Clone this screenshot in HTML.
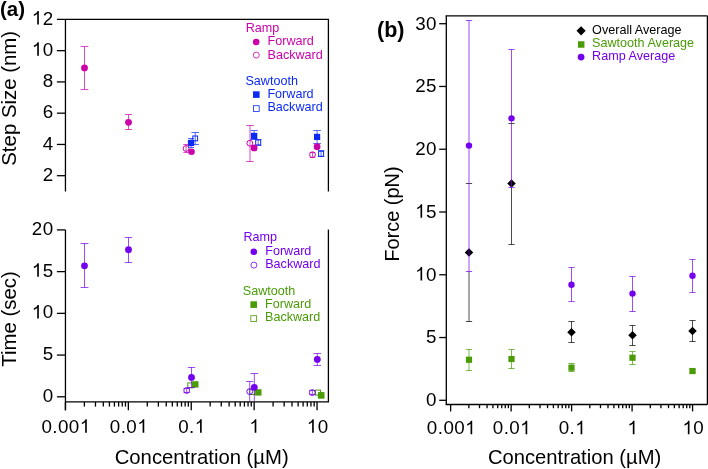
<!DOCTYPE html>
<html><head><meta charset="utf-8"><style>
html,body{margin:0;padding:0;background:#fff;}
body{width:708px;height:469px;overflow:hidden;}
svg{display:block;font-family:"Liberation Sans",sans-serif;will-change:transform;}
</style></head><body>
<svg width="708" height="469" viewBox="0 0 708 469">
<rect width="708" height="469" fill="#fff"/>
<line x1="65.45" y1="19.40" x2="65.45" y2="191.50" stroke="#000" stroke-width="1.3"/>
<line x1="56.90" y1="19.40" x2="329.05" y2="19.40" stroke="#000" stroke-width="1.3"/>
<line x1="328.40" y1="19.40" x2="328.40" y2="191.50" stroke="#000" stroke-width="1.3"/>
<line x1="56.90" y1="175.70" x2="65.45" y2="175.70" stroke="#000" stroke-width="1.3"/>
<line x1="56.90" y1="144.44" x2="65.45" y2="144.44" stroke="#000" stroke-width="1.3"/>
<line x1="56.90" y1="113.18" x2="65.45" y2="113.18" stroke="#000" stroke-width="1.3"/>
<line x1="56.90" y1="81.92" x2="65.45" y2="81.92" stroke="#000" stroke-width="1.3"/>
<line x1="56.90" y1="50.66" x2="65.45" y2="50.66" stroke="#000" stroke-width="1.3"/>
<text x="42.74" y="180.80" font-size="18.8" letter-spacing="0.44" fill="#000">2</text>
<text x="42.74" y="149.54" font-size="18.8" letter-spacing="0.44" fill="#000">4</text>
<text x="42.74" y="118.28" font-size="18.8" letter-spacing="0.44" fill="#000">6</text>
<text x="42.74" y="87.02" font-size="18.8" letter-spacing="0.44" fill="#000">8</text>
<text x="31.85" y="55.76" font-size="18.8" letter-spacing="0.44" fill="#000"> 0</text>
<path d="M0.3726 0L0.2847 0L0.2847 0.5601Q0.2250 0.5000 0.1079 0.4541L0.1079 0.5391Q0.2650 0.6000 0.3071 0.7158L0.3726 0.7158Z" fill="#000" transform="translate(31.85 55.76) scale(18.8 -18.8)"/>
<text x="31.85" y="24.50" font-size="18.8" letter-spacing="0.44" fill="#000"> 2</text>
<path d="M0.3726 0L0.2847 0L0.2847 0.5601Q0.2250 0.5000 0.1079 0.4541L0.1079 0.5391Q0.2650 0.6000 0.3071 0.7158L0.3726 0.7158Z" fill="#000" transform="translate(31.85 24.50) scale(18.8 -18.8)"/>
<line x1="65.45" y1="229.90" x2="65.45" y2="410.30" stroke="#000" stroke-width="1.3"/>
<line x1="328.40" y1="229.60" x2="328.40" y2="401.90" stroke="#000" stroke-width="1.3"/>
<line x1="65.45" y1="401.90" x2="329.05" y2="401.90" stroke="#000" stroke-width="1.3"/>
<line x1="56.90" y1="396.80" x2="65.45" y2="396.80" stroke="#000" stroke-width="1.3"/>
<text x="42.74" y="401.90" font-size="18.8" letter-spacing="0.44" fill="#000">0</text>
<line x1="56.90" y1="355.07" x2="65.45" y2="355.07" stroke="#000" stroke-width="1.3"/>
<text x="42.74" y="360.18" font-size="18.8" letter-spacing="0.44" fill="#000">5</text>
<line x1="56.90" y1="313.35" x2="65.45" y2="313.35" stroke="#000" stroke-width="1.3"/>
<text x="31.85" y="318.45" font-size="18.8" letter-spacing="0.44" fill="#000"> 0</text>
<path d="M0.3726 0L0.2847 0L0.2847 0.5601Q0.2250 0.5000 0.1079 0.4541L0.1079 0.5391Q0.2650 0.6000 0.3071 0.7158L0.3726 0.7158Z" fill="#000" transform="translate(31.85 318.45) scale(18.8 -18.8)"/>
<line x1="56.90" y1="271.62" x2="65.45" y2="271.62" stroke="#000" stroke-width="1.3"/>
<text x="31.85" y="276.73" font-size="18.8" letter-spacing="0.44" fill="#000"> 5</text>
<path d="M0.3726 0L0.2847 0L0.2847 0.5601Q0.2250 0.5000 0.1079 0.4541L0.1079 0.5391Q0.2650 0.6000 0.3071 0.7158L0.3726 0.7158Z" fill="#000" transform="translate(31.85 276.73) scale(18.8 -18.8)"/>
<line x1="56.90" y1="229.90" x2="65.45" y2="229.90" stroke="#000" stroke-width="1.3"/>
<text x="31.85" y="235.00" font-size="18.8" letter-spacing="0.44" fill="#000">20</text>
<line x1="65.45" y1="401.90" x2="65.45" y2="410.30" stroke="#000" stroke-width="1.3"/>
<line x1="84.38" y1="401.90" x2="84.38" y2="406.60" stroke="#000" stroke-width="1.3"/>
<line x1="95.46" y1="401.90" x2="95.46" y2="406.60" stroke="#000" stroke-width="1.3"/>
<line x1="103.32" y1="401.90" x2="103.32" y2="406.60" stroke="#000" stroke-width="1.3"/>
<line x1="109.42" y1="401.90" x2="109.42" y2="406.60" stroke="#000" stroke-width="1.3"/>
<line x1="114.40" y1="401.90" x2="114.40" y2="406.60" stroke="#000" stroke-width="1.3"/>
<line x1="118.61" y1="401.90" x2="118.61" y2="406.60" stroke="#000" stroke-width="1.3"/>
<line x1="122.25" y1="401.90" x2="122.25" y2="406.60" stroke="#000" stroke-width="1.3"/>
<line x1="125.47" y1="401.90" x2="125.47" y2="406.60" stroke="#000" stroke-width="1.3"/>
<line x1="128.35" y1="401.90" x2="128.35" y2="410.30" stroke="#000" stroke-width="1.3"/>
<line x1="147.28" y1="401.90" x2="147.28" y2="406.60" stroke="#000" stroke-width="1.3"/>
<line x1="158.36" y1="401.90" x2="158.36" y2="406.60" stroke="#000" stroke-width="1.3"/>
<line x1="166.22" y1="401.90" x2="166.22" y2="406.60" stroke="#000" stroke-width="1.3"/>
<line x1="172.32" y1="401.90" x2="172.32" y2="406.60" stroke="#000" stroke-width="1.3"/>
<line x1="177.30" y1="401.90" x2="177.30" y2="406.60" stroke="#000" stroke-width="1.3"/>
<line x1="181.51" y1="401.90" x2="181.51" y2="406.60" stroke="#000" stroke-width="1.3"/>
<line x1="185.15" y1="401.90" x2="185.15" y2="406.60" stroke="#000" stroke-width="1.3"/>
<line x1="188.37" y1="401.90" x2="188.37" y2="406.60" stroke="#000" stroke-width="1.3"/>
<line x1="191.25" y1="401.90" x2="191.25" y2="410.30" stroke="#000" stroke-width="1.3"/>
<line x1="210.18" y1="401.90" x2="210.18" y2="406.60" stroke="#000" stroke-width="1.3"/>
<line x1="221.26" y1="401.90" x2="221.26" y2="406.60" stroke="#000" stroke-width="1.3"/>
<line x1="229.12" y1="401.90" x2="229.12" y2="406.60" stroke="#000" stroke-width="1.3"/>
<line x1="235.22" y1="401.90" x2="235.22" y2="406.60" stroke="#000" stroke-width="1.3"/>
<line x1="240.20" y1="401.90" x2="240.20" y2="406.60" stroke="#000" stroke-width="1.3"/>
<line x1="244.41" y1="401.90" x2="244.41" y2="406.60" stroke="#000" stroke-width="1.3"/>
<line x1="248.05" y1="401.90" x2="248.05" y2="406.60" stroke="#000" stroke-width="1.3"/>
<line x1="251.27" y1="401.90" x2="251.27" y2="406.60" stroke="#000" stroke-width="1.3"/>
<line x1="254.15" y1="401.90" x2="254.15" y2="410.30" stroke="#000" stroke-width="1.3"/>
<line x1="273.08" y1="401.90" x2="273.08" y2="406.60" stroke="#000" stroke-width="1.3"/>
<line x1="284.16" y1="401.90" x2="284.16" y2="406.60" stroke="#000" stroke-width="1.3"/>
<line x1="292.02" y1="401.90" x2="292.02" y2="406.60" stroke="#000" stroke-width="1.3"/>
<line x1="298.12" y1="401.90" x2="298.12" y2="406.60" stroke="#000" stroke-width="1.3"/>
<line x1="303.10" y1="401.90" x2="303.10" y2="406.60" stroke="#000" stroke-width="1.3"/>
<line x1="307.31" y1="401.90" x2="307.31" y2="406.60" stroke="#000" stroke-width="1.3"/>
<line x1="310.95" y1="401.90" x2="310.95" y2="406.60" stroke="#000" stroke-width="1.3"/>
<line x1="314.17" y1="401.90" x2="314.17" y2="406.60" stroke="#000" stroke-width="1.3"/>
<line x1="317.05" y1="401.90" x2="317.05" y2="410.30" stroke="#000" stroke-width="1.3"/>
<text x="41.45" y="432.80" font-size="18.8" letter-spacing="0.44" fill="#000">0.00 </text>
<path d="M0.3726 0L0.2847 0L0.2847 0.5601Q0.2250 0.5000 0.1079 0.4541L0.1079 0.5391Q0.2650 0.6000 0.3071 0.7158L0.3726 0.7158Z" fill="#000" transform="translate(79.80 432.80) scale(18.8 -18.8)"/>
<text x="109.79" y="432.80" font-size="18.8" letter-spacing="0.44" fill="#000">0.0 </text>
<path d="M0.3726 0L0.2847 0L0.2847 0.5601Q0.2250 0.5000 0.1079 0.4541L0.1079 0.5391Q0.2650 0.6000 0.3071 0.7158L0.3726 0.7158Z" fill="#000" transform="translate(137.25 432.80) scale(18.8 -18.8)"/>
<text x="178.14" y="432.80" font-size="18.8" letter-spacing="0.44" fill="#000">0. </text>
<path d="M0.3726 0L0.2847 0L0.2847 0.5601Q0.2250 0.5000 0.1079 0.4541L0.1079 0.5391Q0.2650 0.6000 0.3071 0.7158L0.3726 0.7158Z" fill="#000" transform="translate(194.70 432.80) scale(18.8 -18.8)"/>
<path d="M0.3726 0L0.2847 0L0.2847 0.5601Q0.2250 0.5000 0.1079 0.4541L0.1079 0.5391Q0.2650 0.6000 0.3071 0.7158L0.3726 0.7158Z" fill="#000" transform="translate(249.32 432.80) scale(18.8 -18.8)"/>
<text x="306.77" y="432.80" font-size="18.8" letter-spacing="0.44" fill="#000"> 0</text>
<path d="M0.3726 0L0.2847 0L0.2847 0.5601Q0.2250 0.5000 0.1079 0.4541L0.1079 0.5391Q0.2650 0.6000 0.3071 0.7158L0.3726 0.7158Z" fill="#000" transform="translate(306.77 432.80) scale(18.8 -18.8)"/>
<text x="201.70" y="464.00" font-size="20.3" text-anchor="middle" fill="#000" font-weight="normal">Concentration (µM)</text>
<text x="15.60" y="98.30" font-size="20.4" text-anchor="middle" fill="#000" font-weight="normal" transform="rotate(-90 15.6 98.3)">Step Size (nm)</text>
<text x="16.20" y="319.00" font-size="20.4" text-anchor="middle" fill="#000" font-weight="normal" transform="rotate(-90 16.2 319.0)">Time (sec)</text>
<text x="0.00" y="15.60" font-size="20.5" text-anchor="start" fill="#000" font-weight="bold">(a)</text>
<line x1="186.10" y1="144.50" x2="186.10" y2="152.50" stroke="#cc00a8" stroke-width="0.7"/>
<line x1="183.35" y1="144.50" x2="188.85" y2="144.50" stroke="#cc00a8" stroke-width="0.7"/>
<line x1="183.35" y1="152.50" x2="188.85" y2="152.50" stroke="#cc00a8" stroke-width="0.7"/>
<circle cx="186.10" cy="148.50" r="2.9" fill="none" stroke="#cc00a8" stroke-width="1.0"/>
<line x1="250.00" y1="125.50" x2="250.00" y2="161.50" stroke="#cc00a8" stroke-width="0.7"/>
<line x1="246.25" y1="125.50" x2="253.75" y2="125.50" stroke="#cc00a8" stroke-width="0.7"/>
<line x1="246.25" y1="161.50" x2="253.75" y2="161.50" stroke="#cc00a8" stroke-width="0.7"/>
<circle cx="249.80" cy="143.20" r="2.9" fill="none" stroke="#cc00a8" stroke-width="1.0"/>
<line x1="312.50" y1="152.50" x2="312.50" y2="157.50" stroke="#cc00a8" stroke-width="0.7"/>
<line x1="309.75" y1="152.50" x2="315.25" y2="152.50" stroke="#cc00a8" stroke-width="0.7"/>
<line x1="309.75" y1="157.50" x2="315.25" y2="157.50" stroke="#cc00a8" stroke-width="0.7"/>
<circle cx="312.50" cy="154.70" r="2.9" fill="none" stroke="#cc00a8" stroke-width="1.0"/>
<line x1="195.20" y1="132.50" x2="195.20" y2="144.50" stroke="#0c2af4" stroke-width="0.7"/>
<line x1="191.45" y1="132.50" x2="198.95" y2="132.50" stroke="#0c2af4" stroke-width="0.7"/>
<line x1="191.45" y1="144.50" x2="198.95" y2="144.50" stroke="#0c2af4" stroke-width="0.7"/>
<rect x="192.80" y="136.00" width="4.8" height="4.8" fill="none" stroke="#0c2af4" stroke-width="1.0"/>
<line x1="258.20" y1="139.50" x2="258.20" y2="145.50" stroke="#0c2af4" stroke-width="0.7"/>
<line x1="254.95" y1="139.50" x2="261.45" y2="139.50" stroke="#0c2af4" stroke-width="0.7"/>
<line x1="254.95" y1="145.50" x2="261.45" y2="145.50" stroke="#0c2af4" stroke-width="0.7"/>
<rect x="255.70" y="139.90" width="5.0" height="5.0" fill="none" stroke="#0c2af4" stroke-width="1.0"/>
<line x1="321.10" y1="150.50" x2="321.10" y2="156.50" stroke="#0c2af4" stroke-width="0.7"/>
<line x1="317.85" y1="150.50" x2="324.35" y2="150.50" stroke="#0c2af4" stroke-width="0.7"/>
<line x1="317.85" y1="156.50" x2="324.35" y2="156.50" stroke="#0c2af4" stroke-width="0.7"/>
<rect x="318.60" y="151.30" width="5.0" height="5.0" fill="none" stroke="#0c2af4" stroke-width="1.0"/>
<line x1="191.00" y1="138.50" x2="191.00" y2="147.50" stroke="#0c2af4" stroke-width="0.7"/>
<line x1="188.00" y1="138.50" x2="194.00" y2="138.50" stroke="#0c2af4" stroke-width="0.7"/>
<line x1="188.00" y1="147.50" x2="194.00" y2="147.50" stroke="#0c2af4" stroke-width="0.7"/>
<rect x="187.90" y="139.90" width="6.2" height="6.2" fill="#0c2af4"/>
<line x1="254.10" y1="130.50" x2="254.10" y2="139.50" stroke="#0c2af4" stroke-width="0.7"/>
<line x1="250.45" y1="130.50" x2="257.75" y2="130.50" stroke="#0c2af4" stroke-width="0.7"/>
<line x1="250.45" y1="139.50" x2="257.75" y2="139.50" stroke="#0c2af4" stroke-width="0.7"/>
<rect x="250.90" y="132.80" width="6.4" height="6.4" fill="#0c2af4"/>
<line x1="317.10" y1="130.50" x2="317.10" y2="143.50" stroke="#0c2af4" stroke-width="0.7"/>
<line x1="313.25" y1="130.50" x2="320.95" y2="130.50" stroke="#0c2af4" stroke-width="0.7"/>
<line x1="313.25" y1="143.50" x2="320.95" y2="143.50" stroke="#0c2af4" stroke-width="0.7"/>
<rect x="314.00" y="133.80" width="6.2" height="6.2" fill="#0c2af4"/>
<line x1="84.50" y1="46.50" x2="84.50" y2="89.50" stroke="#cc00a8" stroke-width="0.7"/>
<line x1="80.60" y1="46.50" x2="88.40" y2="46.50" stroke="#cc00a8" stroke-width="0.7"/>
<line x1="80.60" y1="89.50" x2="88.40" y2="89.50" stroke="#cc00a8" stroke-width="0.7"/>
<circle cx="84.50" cy="67.90" r="3.4" fill="#cc00a8"/>
<line x1="128.50" y1="114.50" x2="128.50" y2="129.50" stroke="#cc00a8" stroke-width="0.7"/>
<line x1="125.00" y1="114.50" x2="132.00" y2="114.50" stroke="#cc00a8" stroke-width="0.7"/>
<line x1="125.00" y1="129.50" x2="132.00" y2="129.50" stroke="#cc00a8" stroke-width="0.7"/>
<circle cx="128.50" cy="122.30" r="3.4" fill="#cc00a8"/>
<circle cx="191.50" cy="151.80" r="3.3" fill="#cc00a8"/>
<line x1="254.10" y1="145.50" x2="254.10" y2="150.50" stroke="#cc00a8" stroke-width="0.7"/>
<line x1="251.60" y1="145.50" x2="256.60" y2="145.50" stroke="#cc00a8" stroke-width="0.7"/>
<line x1="251.60" y1="150.50" x2="256.60" y2="150.50" stroke="#cc00a8" stroke-width="0.7"/>
<circle cx="254.10" cy="147.90" r="3.4" fill="#cc00a8"/>
<circle cx="317.10" cy="146.70" r="3.4" fill="#cc00a8"/>
<text x="245.70" y="31.50" font-size="12.6" text-anchor="start" fill="#cc00a8" font-weight="normal">Ramp</text>
<circle cx="256.20" cy="42.00" r="3.3" fill="#cc00a8"/>
<text x="267.50" y="45.10" font-size="12.6" text-anchor="start" fill="#cc00a8" font-weight="normal">Forward</text>
<circle cx="256.30" cy="55.10" r="3.0" fill="none" stroke="#cc00a8" stroke-width="0.8"/>
<text x="267.50" y="58.70" font-size="12.6" text-anchor="start" fill="#cc00a8" font-weight="normal">Backward</text>
<text x="245.40" y="85.00" font-size="12.6" text-anchor="start" fill="#0c2af4" font-weight="normal">Sawtooth</text>
<rect x="253.00" y="91.30" width="6.6" height="6.6" fill="#0c2af4"/>
<text x="267.40" y="98.30" font-size="12.6" text-anchor="start" fill="#0c2af4" font-weight="normal">Forward</text>
<rect x="253.40" y="105.70" width="5.8" height="5.8" fill="none" stroke="#0c2af4" stroke-width="0.8"/>
<text x="267.40" y="111.40" font-size="12.6" text-anchor="start" fill="#0c2af4" font-weight="normal">Backward</text>
<rect x="187.80" y="382.90" width="5.0" height="5.0" fill="none" stroke="#4a9b06" stroke-width="1.0"/>
<rect x="249.80" y="389.50" width="5.0" height="5.0" fill="none" stroke="#4a9b06" stroke-width="1.0"/>
<rect x="315.50" y="390.10" width="5.0" height="5.0" fill="none" stroke="#4a9b06" stroke-width="1.0"/>
<line x1="186.70" y1="388.50" x2="186.70" y2="392.50" stroke="#7300ee" stroke-width="0.7"/>
<line x1="183.55" y1="388.50" x2="189.85" y2="388.50" stroke="#7300ee" stroke-width="0.7"/>
<line x1="183.55" y1="392.50" x2="189.85" y2="392.50" stroke="#7300ee" stroke-width="0.7"/>
<circle cx="186.70" cy="390.50" r="2.9" fill="none" stroke="#7300ee" stroke-width="1.0"/>
<line x1="249.70" y1="381.50" x2="249.70" y2="401.20" stroke="#7300ee" stroke-width="0.7"/>
<line x1="246.20" y1="381.50" x2="253.20" y2="381.50" stroke="#7300ee" stroke-width="0.7"/>
<circle cx="249.70" cy="391.60" r="2.9" fill="none" stroke="#7300ee" stroke-width="1.0"/>
<line x1="312.30" y1="390.50" x2="312.30" y2="394.50" stroke="#7300ee" stroke-width="0.7"/>
<line x1="309.30" y1="390.50" x2="315.30" y2="390.50" stroke="#7300ee" stroke-width="0.7"/>
<line x1="309.30" y1="394.50" x2="315.30" y2="394.50" stroke="#7300ee" stroke-width="0.7"/>
<circle cx="312.30" cy="392.60" r="2.9" fill="none" stroke="#7300ee" stroke-width="1.0"/>
<rect x="192.10" y="381.20" width="6.4" height="6.4" fill="#4a9b06"/>
<rect x="255.10" y="389.20" width="6.4" height="6.4" fill="#4a9b06"/>
<rect x="317.90" y="392.10" width="6.6" height="6.6" fill="#4a9b06"/>
<line x1="84.50" y1="243.50" x2="84.50" y2="287.50" stroke="#7300ee" stroke-width="0.7"/>
<line x1="80.60" y1="243.50" x2="88.40" y2="243.50" stroke="#7300ee" stroke-width="0.7"/>
<line x1="80.60" y1="287.50" x2="88.40" y2="287.50" stroke="#7300ee" stroke-width="0.7"/>
<circle cx="84.50" cy="265.80" r="3.4" fill="#7300ee"/>
<line x1="128.50" y1="237.50" x2="128.50" y2="262.50" stroke="#7300ee" stroke-width="0.7"/>
<line x1="124.80" y1="237.50" x2="132.20" y2="237.50" stroke="#7300ee" stroke-width="0.7"/>
<line x1="124.80" y1="262.50" x2="132.20" y2="262.50" stroke="#7300ee" stroke-width="0.7"/>
<circle cx="128.50" cy="249.70" r="3.4" fill="#7300ee"/>
<line x1="191.50" y1="367.50" x2="191.50" y2="387.50" stroke="#7300ee" stroke-width="0.7"/>
<line x1="187.80" y1="367.50" x2="195.20" y2="367.50" stroke="#7300ee" stroke-width="0.7"/>
<line x1="187.80" y1="387.50" x2="195.20" y2="387.50" stroke="#7300ee" stroke-width="0.7"/>
<circle cx="191.50" cy="377.40" r="3.4" fill="#7300ee"/>
<line x1="254.30" y1="373.50" x2="254.30" y2="401.20" stroke="#7300ee" stroke-width="0.7"/>
<line x1="250.45" y1="373.50" x2="258.15" y2="373.50" stroke="#7300ee" stroke-width="0.7"/>
<circle cx="254.30" cy="387.30" r="3.4" fill="#7300ee"/>
<line x1="317.30" y1="353.50" x2="317.30" y2="365.50" stroke="#7300ee" stroke-width="0.7"/>
<line x1="313.50" y1="353.50" x2="321.10" y2="353.50" stroke="#7300ee" stroke-width="0.7"/>
<line x1="313.50" y1="365.50" x2="321.10" y2="365.50" stroke="#7300ee" stroke-width="0.7"/>
<circle cx="317.30" cy="359.40" r="3.4" fill="#7300ee"/>
<text x="243.50" y="241.40" font-size="12.6" text-anchor="start" fill="#7300ee" font-weight="normal">Ramp</text>
<circle cx="253.80" cy="251.80" r="3.3" fill="#7300ee"/>
<text x="265.20" y="254.80" font-size="12.6" text-anchor="start" fill="#7300ee" font-weight="normal">Forward</text>
<circle cx="253.90" cy="265.10" r="3.0" fill="none" stroke="#7300ee" stroke-width="0.8"/>
<text x="265.20" y="268.10" font-size="12.6" text-anchor="start" fill="#7300ee" font-weight="normal">Backward</text>
<text x="242.80" y="295.00" font-size="12.6" text-anchor="start" fill="#4a9b06" font-weight="normal">Sawtooth</text>
<rect x="250.40" y="301.30" width="6.6" height="6.6" fill="#4a9b06"/>
<text x="265.00" y="308.20" font-size="12.6" text-anchor="start" fill="#4a9b06" font-weight="normal">Forward</text>
<rect x="250.80" y="315.70" width="5.8" height="5.8" fill="none" stroke="#4a9b06" stroke-width="0.8"/>
<text x="265.00" y="321.40" font-size="12.6" text-anchor="start" fill="#4a9b06" font-weight="normal">Backward</text>
<line x1="446.30" y1="15.80" x2="446.30" y2="404.50" stroke="#000" stroke-width="1.3"/>
<line x1="445.65" y1="15.80" x2="707.40" y2="15.80" stroke="#000" stroke-width="1.3"/>
<line x1="707.40" y1="15.80" x2="707.40" y2="404.50" stroke="#000" stroke-width="1.3"/>
<line x1="445.65" y1="404.50" x2="707.40" y2="404.50" stroke="#000" stroke-width="1.3"/>
<line x1="439.20" y1="400.30" x2="446.30" y2="400.30" stroke="#000" stroke-width="1.3"/>
<text x="426.04" y="406.10" font-size="18.8" letter-spacing="0.44" fill="#000">0</text>
<line x1="439.20" y1="337.54" x2="446.30" y2="337.54" stroke="#000" stroke-width="1.3"/>
<text x="426.04" y="343.34" font-size="18.8" letter-spacing="0.44" fill="#000">5</text>
<line x1="439.20" y1="274.77" x2="446.30" y2="274.77" stroke="#000" stroke-width="1.3"/>
<text x="415.15" y="280.57" font-size="18.8" letter-spacing="0.44" fill="#000"> 0</text>
<path d="M0.3726 0L0.2847 0L0.2847 0.5601Q0.2250 0.5000 0.1079 0.4541L0.1079 0.5391Q0.2650 0.6000 0.3071 0.7158L0.3726 0.7158Z" fill="#000" transform="translate(415.15 280.57) scale(18.8 -18.8)"/>
<line x1="439.20" y1="212.00" x2="446.30" y2="212.00" stroke="#000" stroke-width="1.3"/>
<text x="415.15" y="217.81" font-size="18.8" letter-spacing="0.44" fill="#000"> 5</text>
<path d="M0.3726 0L0.2847 0L0.2847 0.5601Q0.2250 0.5000 0.1079 0.4541L0.1079 0.5391Q0.2650 0.6000 0.3071 0.7158L0.3726 0.7158Z" fill="#000" transform="translate(415.15 217.81) scale(18.8 -18.8)"/>
<line x1="439.20" y1="149.24" x2="446.30" y2="149.24" stroke="#000" stroke-width="1.3"/>
<text x="415.15" y="155.04" font-size="18.8" letter-spacing="0.44" fill="#000">20</text>
<line x1="439.20" y1="86.47" x2="446.30" y2="86.47" stroke="#000" stroke-width="1.3"/>
<text x="415.15" y="92.27" font-size="18.8" letter-spacing="0.44" fill="#000">25</text>
<line x1="439.20" y1="23.71" x2="446.30" y2="23.71" stroke="#000" stroke-width="1.3"/>
<text x="415.15" y="29.51" font-size="18.8" letter-spacing="0.44" fill="#000">30</text>
<line x1="450.65" y1="404.50" x2="450.65" y2="411.40" stroke="#000" stroke-width="1.3"/>
<line x1="468.86" y1="404.50" x2="468.86" y2="408.20" stroke="#000" stroke-width="1.3"/>
<line x1="479.51" y1="404.50" x2="479.51" y2="408.20" stroke="#000" stroke-width="1.3"/>
<line x1="487.06" y1="404.50" x2="487.06" y2="408.20" stroke="#000" stroke-width="1.3"/>
<line x1="492.92" y1="404.50" x2="492.92" y2="408.20" stroke="#000" stroke-width="1.3"/>
<line x1="497.71" y1="404.50" x2="497.71" y2="408.20" stroke="#000" stroke-width="1.3"/>
<line x1="501.76" y1="404.50" x2="501.76" y2="408.20" stroke="#000" stroke-width="1.3"/>
<line x1="505.27" y1="404.50" x2="505.27" y2="408.20" stroke="#000" stroke-width="1.3"/>
<line x1="508.36" y1="404.50" x2="508.36" y2="408.20" stroke="#000" stroke-width="1.3"/>
<line x1="511.13" y1="404.50" x2="511.13" y2="411.40" stroke="#000" stroke-width="1.3"/>
<line x1="529.34" y1="404.50" x2="529.34" y2="408.20" stroke="#000" stroke-width="1.3"/>
<line x1="539.99" y1="404.50" x2="539.99" y2="408.20" stroke="#000" stroke-width="1.3"/>
<line x1="547.54" y1="404.50" x2="547.54" y2="408.20" stroke="#000" stroke-width="1.3"/>
<line x1="553.40" y1="404.50" x2="553.40" y2="408.20" stroke="#000" stroke-width="1.3"/>
<line x1="558.19" y1="404.50" x2="558.19" y2="408.20" stroke="#000" stroke-width="1.3"/>
<line x1="562.24" y1="404.50" x2="562.24" y2="408.20" stroke="#000" stroke-width="1.3"/>
<line x1="565.75" y1="404.50" x2="565.75" y2="408.20" stroke="#000" stroke-width="1.3"/>
<line x1="568.84" y1="404.50" x2="568.84" y2="408.20" stroke="#000" stroke-width="1.3"/>
<line x1="571.61" y1="404.50" x2="571.61" y2="411.40" stroke="#000" stroke-width="1.3"/>
<line x1="589.82" y1="404.50" x2="589.82" y2="408.20" stroke="#000" stroke-width="1.3"/>
<line x1="600.47" y1="404.50" x2="600.47" y2="408.20" stroke="#000" stroke-width="1.3"/>
<line x1="608.02" y1="404.50" x2="608.02" y2="408.20" stroke="#000" stroke-width="1.3"/>
<line x1="613.88" y1="404.50" x2="613.88" y2="408.20" stroke="#000" stroke-width="1.3"/>
<line x1="618.67" y1="404.50" x2="618.67" y2="408.20" stroke="#000" stroke-width="1.3"/>
<line x1="622.72" y1="404.50" x2="622.72" y2="408.20" stroke="#000" stroke-width="1.3"/>
<line x1="626.23" y1="404.50" x2="626.23" y2="408.20" stroke="#000" stroke-width="1.3"/>
<line x1="629.32" y1="404.50" x2="629.32" y2="408.20" stroke="#000" stroke-width="1.3"/>
<line x1="632.09" y1="404.50" x2="632.09" y2="411.40" stroke="#000" stroke-width="1.3"/>
<line x1="650.30" y1="404.50" x2="650.30" y2="408.20" stroke="#000" stroke-width="1.3"/>
<line x1="660.95" y1="404.50" x2="660.95" y2="408.20" stroke="#000" stroke-width="1.3"/>
<line x1="668.50" y1="404.50" x2="668.50" y2="408.20" stroke="#000" stroke-width="1.3"/>
<line x1="674.36" y1="404.50" x2="674.36" y2="408.20" stroke="#000" stroke-width="1.3"/>
<line x1="679.15" y1="404.50" x2="679.15" y2="408.20" stroke="#000" stroke-width="1.3"/>
<line x1="683.20" y1="404.50" x2="683.20" y2="408.20" stroke="#000" stroke-width="1.3"/>
<line x1="686.71" y1="404.50" x2="686.71" y2="408.20" stroke="#000" stroke-width="1.3"/>
<line x1="689.80" y1="404.50" x2="689.80" y2="408.20" stroke="#000" stroke-width="1.3"/>
<line x1="692.57" y1="404.50" x2="692.57" y2="411.40" stroke="#000" stroke-width="1.3"/>
<text x="426.85" y="434.20" font-size="18.8" letter-spacing="0.44" fill="#000">0.00 </text>
<path d="M0.3726 0L0.2847 0L0.2847 0.5601Q0.2250 0.5000 0.1079 0.4541L0.1079 0.5391Q0.2650 0.6000 0.3071 0.7158L0.3726 0.7158Z" fill="#000" transform="translate(465.20 434.20) scale(18.8 -18.8)"/>
<text x="492.77" y="434.20" font-size="18.8" letter-spacing="0.44" fill="#000">0.0 </text>
<path d="M0.3726 0L0.2847 0L0.2847 0.5601Q0.2250 0.5000 0.1079 0.4541L0.1079 0.5391Q0.2650 0.6000 0.3071 0.7158L0.3726 0.7158Z" fill="#000" transform="translate(520.23 434.20) scale(18.8 -18.8)"/>
<text x="558.70" y="434.20" font-size="18.8" letter-spacing="0.44" fill="#000">0. </text>
<path d="M0.3726 0L0.2847 0L0.2847 0.5601Q0.2250 0.5000 0.1079 0.4541L0.1079 0.5391Q0.2650 0.6000 0.3071 0.7158L0.3726 0.7158Z" fill="#000" transform="translate(575.26 434.20) scale(18.8 -18.8)"/>
<path d="M0.3726 0L0.2847 0L0.2847 0.5601Q0.2250 0.5000 0.1079 0.4541L0.1079 0.5391Q0.2650 0.6000 0.3071 0.7158L0.3726 0.7158Z" fill="#000" transform="translate(627.46 434.20) scale(18.8 -18.8)"/>
<text x="682.49" y="434.20" font-size="18.8" letter-spacing="0.44" fill="#000"> 0</text>
<path d="M0.3726 0L0.2847 0L0.2847 0.5601Q0.2250 0.5000 0.1079 0.4541L0.1079 0.5391Q0.2650 0.6000 0.3071 0.7158L0.3726 0.7158Z" fill="#000" transform="translate(682.49 434.20) scale(18.8 -18.8)"/>
<text x="574.60" y="464.00" font-size="20.2" text-anchor="middle" fill="#000" font-weight="normal">Concentration (µM)</text>
<text x="398.80" y="214.00" font-size="19.9" text-anchor="middle" fill="#000" font-weight="normal" transform="rotate(-90 398.8 214.0)">Force (pN)</text>
<text x="377.00" y="37.40" font-size="21.5" text-anchor="start" fill="#000" font-weight="bold">(b)</text>
<line x1="469.00" y1="271.50" x2="469.00" y2="321.50" stroke="#000" stroke-width="0.7"/>
<line x1="465.85" y1="183.50" x2="472.15" y2="183.50" stroke="#000" stroke-width="0.7"/>
<line x1="465.85" y1="321.50" x2="472.15" y2="321.50" stroke="#000" stroke-width="0.7"/>
<path d="M469.00 248.18L473.25 252.43L469.00 256.68L464.75 252.43Z" fill="#000"/>
<line x1="511.50" y1="187.50" x2="511.50" y2="244.50" stroke="#000" stroke-width="0.7"/>
<line x1="508.35" y1="123.50" x2="514.65" y2="123.50" stroke="#000" stroke-width="0.7"/>
<line x1="508.35" y1="244.50" x2="514.65" y2="244.50" stroke="#000" stroke-width="0.7"/>
<path d="M511.50 179.26L515.75 183.51L511.50 187.76L507.25 183.51Z" fill="#000"/>
<line x1="571.50" y1="321.50" x2="571.50" y2="342.50" stroke="#000" stroke-width="0.7"/>
<line x1="568.35" y1="321.50" x2="574.65" y2="321.50" stroke="#000" stroke-width="0.7"/>
<line x1="568.35" y1="342.50" x2="574.65" y2="342.50" stroke="#000" stroke-width="0.7"/>
<path d="M571.50 327.89L575.75 332.14L571.50 336.39L567.25 332.14Z" fill="#000"/>
<line x1="632.50" y1="325.50" x2="632.50" y2="345.50" stroke="#000" stroke-width="0.7"/>
<line x1="629.35" y1="325.50" x2="635.65" y2="325.50" stroke="#000" stroke-width="0.7"/>
<line x1="629.35" y1="345.50" x2="635.65" y2="345.50" stroke="#000" stroke-width="0.7"/>
<path d="M632.50 330.90L636.75 335.15L632.50 339.40L628.25 335.15Z" fill="#000"/>
<line x1="692.50" y1="320.50" x2="692.50" y2="341.50" stroke="#000" stroke-width="0.7"/>
<line x1="689.35" y1="320.50" x2="695.65" y2="320.50" stroke="#000" stroke-width="0.7"/>
<line x1="689.35" y1="341.50" x2="695.65" y2="341.50" stroke="#000" stroke-width="0.7"/>
<path d="M692.50 326.63L696.75 330.88L692.50 335.13L688.25 330.88Z" fill="#000"/>
<line x1="469.00" y1="349.50" x2="469.00" y2="370.50" stroke="#4a9b06" stroke-width="0.7"/>
<line x1="465.85" y1="349.50" x2="472.15" y2="349.50" stroke="#4a9b06" stroke-width="0.7"/>
<line x1="465.85" y1="370.50" x2="472.15" y2="370.50" stroke="#4a9b06" stroke-width="0.7"/>
<rect x="465.90" y="356.65" width="6.2" height="6.2" fill="#4a9b06"/>
<line x1="511.50" y1="349.50" x2="511.50" y2="368.50" stroke="#4a9b06" stroke-width="0.7"/>
<line x1="508.35" y1="349.50" x2="514.65" y2="349.50" stroke="#4a9b06" stroke-width="0.7"/>
<line x1="508.35" y1="368.50" x2="514.65" y2="368.50" stroke="#4a9b06" stroke-width="0.7"/>
<rect x="508.40" y="355.90" width="6.2" height="6.2" fill="#4a9b06"/>
<line x1="571.50" y1="363.50" x2="571.50" y2="371.50" stroke="#4a9b06" stroke-width="0.7"/>
<line x1="568.35" y1="363.50" x2="574.65" y2="363.50" stroke="#4a9b06" stroke-width="0.7"/>
<line x1="568.35" y1="371.50" x2="574.65" y2="371.50" stroke="#4a9b06" stroke-width="0.7"/>
<rect x="568.40" y="364.56" width="6.2" height="6.2" fill="#4a9b06"/>
<line x1="632.50" y1="351.50" x2="632.50" y2="364.50" stroke="#4a9b06" stroke-width="0.7"/>
<line x1="629.35" y1="351.50" x2="635.65" y2="351.50" stroke="#4a9b06" stroke-width="0.7"/>
<line x1="629.35" y1="364.50" x2="635.65" y2="364.50" stroke="#4a9b06" stroke-width="0.7"/>
<rect x="629.40" y="354.65" width="6.2" height="6.2" fill="#4a9b06"/>
<line x1="692.50" y1="369.50" x2="692.50" y2="372.50" stroke="#4a9b06" stroke-width="0.7"/>
<line x1="689.35" y1="369.50" x2="695.65" y2="369.50" stroke="#4a9b06" stroke-width="0.7"/>
<line x1="689.35" y1="372.50" x2="695.65" y2="372.50" stroke="#4a9b06" stroke-width="0.7"/>
<rect x="689.40" y="367.95" width="6.2" height="6.2" fill="#4a9b06"/>
<line x1="469.00" y1="20.50" x2="469.00" y2="271.50" stroke="#7300ee" stroke-width="0.7"/>
<line x1="465.85" y1="20.50" x2="472.15" y2="20.50" stroke="#7300ee" stroke-width="0.7"/>
<line x1="465.85" y1="271.50" x2="472.15" y2="271.50" stroke="#7300ee" stroke-width="0.7"/>
<circle cx="469.00" cy="145.60" r="3.2" fill="#7300ee"/>
<line x1="511.50" y1="49.50" x2="511.50" y2="187.50" stroke="#7300ee" stroke-width="0.7"/>
<line x1="508.35" y1="49.50" x2="514.65" y2="49.50" stroke="#7300ee" stroke-width="0.7"/>
<line x1="508.35" y1="187.50" x2="514.65" y2="187.50" stroke="#7300ee" stroke-width="0.7"/>
<circle cx="511.50" cy="118.36" r="3.2" fill="#7300ee"/>
<line x1="571.50" y1="267.50" x2="571.50" y2="301.50" stroke="#7300ee" stroke-width="0.7"/>
<line x1="568.35" y1="267.50" x2="574.65" y2="267.50" stroke="#7300ee" stroke-width="0.7"/>
<line x1="568.35" y1="301.50" x2="574.65" y2="301.50" stroke="#7300ee" stroke-width="0.7"/>
<circle cx="571.50" cy="284.81" r="3.2" fill="#7300ee"/>
<line x1="632.50" y1="276.50" x2="632.50" y2="311.50" stroke="#7300ee" stroke-width="0.7"/>
<line x1="629.35" y1="276.50" x2="635.65" y2="276.50" stroke="#7300ee" stroke-width="0.7"/>
<line x1="629.35" y1="311.50" x2="635.65" y2="311.50" stroke="#7300ee" stroke-width="0.7"/>
<circle cx="632.50" cy="293.60" r="3.2" fill="#7300ee"/>
<line x1="692.50" y1="259.50" x2="692.50" y2="292.50" stroke="#7300ee" stroke-width="0.7"/>
<line x1="689.35" y1="259.50" x2="695.65" y2="259.50" stroke="#7300ee" stroke-width="0.7"/>
<line x1="689.35" y1="292.50" x2="695.65" y2="292.50" stroke="#7300ee" stroke-width="0.7"/>
<circle cx="692.50" cy="275.77" r="3.2" fill="#7300ee"/>
<path d="M581.10 26.20L585.70 30.80L581.10 35.40L576.50 30.80Z" fill="#000"/>
<text x="592.10" y="34.30" font-size="12.6" text-anchor="start" fill="#000" font-weight="normal">Overall Average</text>
<rect x="577.95" y="41.25" width="6.5" height="6.5" fill="#4a9b06"/>
<text x="592.10" y="47.40" font-size="12.6" text-anchor="start" fill="#4a9b06" font-weight="normal">Sawtooth Average</text>
<circle cx="581.10" cy="57.10" r="3.4" fill="#7300ee"/>
<text x="592.10" y="60.40" font-size="12.6" text-anchor="start" fill="#7300ee" font-weight="normal">Ramp Average</text>
</svg>
</body></html>
